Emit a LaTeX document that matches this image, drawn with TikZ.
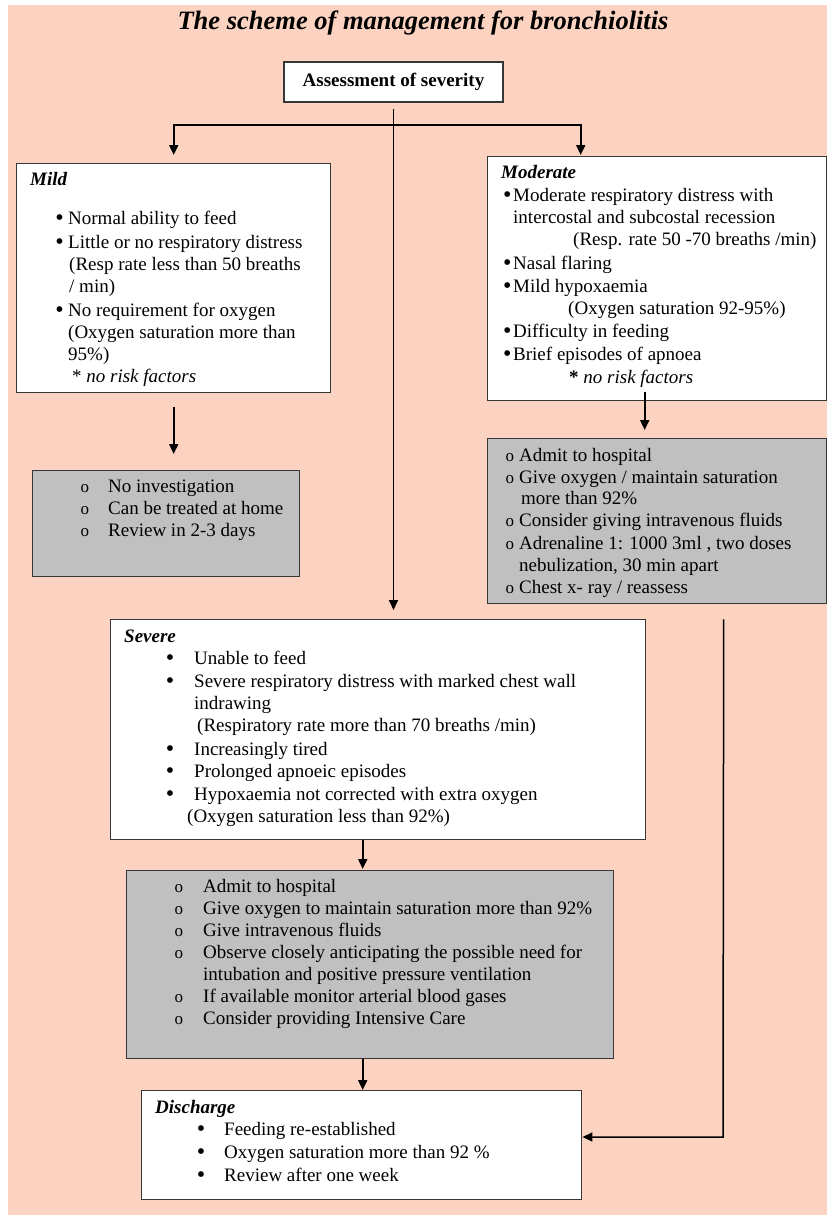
\documentclass[tikz,border=0pt]{standalone}
\usepackage{fontspec}
\setmainfont{Liberation Serif}
\usetikzlibrary{arrows.meta}
\definecolor{bgpink}{RGB}{252,211,193}
\definecolor{actgray}{RGB}{192,192,192}
\definecolor{edgecol}{RGB}{55,55,55}

% one line of text, left edge at x, centred on y
\newcommand{\lineat}[4]{\node[txt] (#1) at (#2,#3) {#4};}
% filled bullet and small-circle bullet hung left of the text
\newcommand{\dotb}[1]{\llap{\raisebox{-1.2pt}{\fontsize{24}{24}\selectfont •}\hspace{#1}}}
\newcommand{\ringb}[1]{\llap{{\fontsize{17}{17}\selectfont o}\hspace{#1}}}

\begin{document}
\begin{tikzpicture}[x=1pt,y=-1pt,
  box/.style={draw=edgecol, line width=1.4pt, fill=white, inner sep=0pt, anchor=north west},
  actbox/.style={box, fill=actgray},
  txt/.style={anchor=mid west, inner sep=0pt, font=\fontsize{19}{22}\selectfont},
  hd/.style={txt, font=\fontsize{19}{22}\selectfont\bfseries\itshape},
  conn/.style={line width=1.9pt, draw=black},
  arr/.style={conn, -{Triangle[length=10pt,width=9pt]}},
]
\useasboundingbox (0,0) rectangle (827,1215);
\fill[bgpink] (8,5) rectangle (827,1215);

% title
\node[font=\fontsize{26.5}{30}\selectfont\bfseries\itshape] (title) at (423,23)
  {The scheme of management for bronchiolitis};

% boxes
\node[box, anchor=center, minimum width=219pt, minimum height=40pt,
      font=\fontsize{19}{22}\selectfont\bfseries] (assess) at (393.5,82) {Assessment of severity};
\node[box, minimum width=314pt, minimum height=229pt] (mild) at (16,163) {};
\node[actbox, minimum width=267pt, minimum height=106pt] (mildact) at (32,470) {};
\node[box, minimum width=339pt, minimum height=244pt] (mod) at (487,156) {};
\node[actbox, minimum width=339pt, minimum height=165pt] (modact) at (487,438) {};
\node[box, minimum width=535pt, minimum height=220pt] (sev) at (110,619) {};
\node[actbox, minimum width=487pt, minimum height=188pt] (sevact) at (126,870) {};
\node[box, minimum width=440pt, minimum height=109pt] (disch) at (141,1090) {};

% connectors
\coordinate (split) at (393.5,125);
\coordinate (ret) at (723,1137);
\draw[arr, shorten <=6pt, shorten >=9pt] (assess.south) -- (assess.south |- sev.north);
\draw[arr, shorten >=8pt] (split) -| (mild.north);
\draw[arr, shorten >=1pt] (split) -| ([xshift=-76.5pt]mod.north);
\draw[arr, shorten <=14pt, shorten >=16pt] (mild.south) -- (mild.south |- mildact.north);
\draw[arr, shorten <=-9pt, shorten >=8pt] ([xshift=-12.5pt]mod.south) -- ([xshift=-12.5pt]mod.south |- modact.north);
\draw[arr, line width=1.5pt, shorten <=15pt] ([xshift=66.5pt]modact.south) -- (ret) -- (disch.east |- ret);
\draw[arr, shorten >=1pt] ([xshift=-15.5pt]sev.south) -- ([xshift=-15.5pt]sev.south |- sevact.north);
\draw[arr] ([xshift=-7.5pt]sevact.south) -- ([xshift=-7.5pt]sevact.south |- disch.north);

% Mild
\node[hd] (mild-h) at (30,183) {Mild};
\lineat{mild-1}{68}{222}{\dotb{4.3pt}Normal ability to feed}
\lineat{mild-2}{68}{246}{\dotb{4.3pt}Little or no respiratory distress}
\lineat{mild-3}{69}{268}{(Resp rate less than 50 breaths}
\lineat{mild-4}{69}{290}{/ min)}
\lineat{mild-5}{68}{314}{\dotb{4.3pt}No requirement for oxygen}
\lineat{mild-6}{68}{336}{(Oxygen saturation more than}
\lineat{mild-7}{68}{358}{95\%)}
\lineat{mild-8}{72}{380}{* \textit{no risk factors}}

\lineat{mildact-1}{108}{490}{\ringb{19pt}No investigation}
\lineat{mildact-2}{108}{512}{\ringb{19pt}Can be treated at home}
\lineat{mildact-3}{108}{534}{\ringb{19pt}Review in 2-3 days}

% Moderate
\node[hd] (mod-h) at (501,176) {Moderate};
\lineat{mod-1}{513}{199}{\dotb{1.6pt}Moderate respiratory distress with}
\lineat{mod-2}{513}{221}{intercostal and subcostal recession}
\lineat{mod-3}{573}{243}{(Resp. rate 50 -70 breaths /min)}
\lineat{mod-4}{513}{267}{\dotb{1.6pt}Nasal flaring}
\lineat{mod-5}{513}{290}{\dotb{1.6pt}Mild hypoxaemia}
\lineat{mod-6}{568}{312}{(Oxygen saturation 92-95\%)}
\lineat{mod-7}{513}{335}{\dotb{1.6pt}Difficulty in feeding}
\lineat{mod-8}{513}{358}{\dotb{1.6pt}Brief episodes of apnoea}
\lineat{mod-9}{569}{381}{\textbf{*} \textit{no risk factors}}

\lineat{modact-1}{519}{459}{\ringb{5pt}Admit to hospital}
\lineat{modact-2}{519}{481}{\ringb{5pt}Give oxygen / maintain saturation}
\lineat{modact-3}{521}{502}{more than 92\%}
\lineat{modact-4}{519}{524}{\ringb{5pt}Consider giving intravenous fluids}
\lineat{modact-5}{519}{547}{\ringb{5pt}Adrenaline 1: 1000 3ml , two doses}
\lineat{modact-6}{519}{569}{nebulization, 30 min apart}
\lineat{modact-7}{519}{591}{\ringb{5pt}Chest x- ray / reassess}

% Severe
\node[hd] (sev-h) at (124,640) {Severe};
\lineat{sev-1}{194}{662}{\dotb{20pt}Unable to feed}
\lineat{sev-2}{194}{685}{\dotb{20pt}Severe respiratory distress with marked chest wall}
\lineat{sev-3}{194}{707}{indrawing}
\lineat{sev-4}{197}{729}{(Respiratory rate more than 70 breaths /min)}
\lineat{sev-5}{194}{753}{\dotb{20pt}Increasingly tired}
\lineat{sev-6}{194}{775}{\dotb{20pt}Prolonged apnoeic episodes}
\lineat{sev-7}{194}{798}{\dotb{20pt}Hypoxaemia not corrected with extra oxygen}
\lineat{sev-8}{187}{820}{(Oxygen saturation less than 92\%)}

\lineat{sevact-1}{203}{890}{\ringb{20pt}Admit to hospital}
\lineat{sevact-2}{203}{912}{\ringb{20pt}Give oxygen to maintain saturation more than 92\%}
\lineat{sevact-3}{203}{934}{\ringb{20pt}Give intravenous fluids}
\lineat{sevact-4}{203}{956}{\ringb{20pt}Observe closely anticipating the possible need for}
\lineat{sevact-5}{203}{978}{intubation and positive pressure ventilation}
\lineat{sevact-6}{203}{1000}{\ringb{20pt}If available monitor arterial blood gases}
\lineat{sevact-7}{203}{1022}{\ringb{20pt}Consider providing Intensive Care}

% Discharge
\node[hd] (disch-h) at (155,1111) {Discharge};
\lineat{disch-1}{224}{1133}{\dotb{19pt}Feeding re-established}
\lineat{disch-2}{224}{1156}{\dotb{19pt}Oxygen saturation more than 92 \%}
\lineat{disch-3}{224}{1179}{\dotb{19pt}Review after one week}
\end{tikzpicture}
\end{document}
